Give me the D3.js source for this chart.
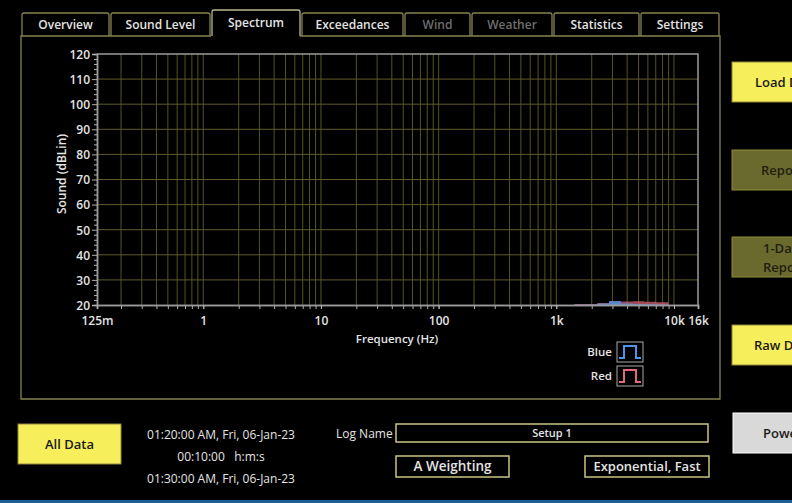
<!DOCTYPE html>
<html>
<head>
<meta charset="utf-8">
<script src="https://cdn.jsdelivr.net/npm/d3@7"></script>
<style>
  html, body { margin: 0; padding: 0; background: #000; overflow: hidden; }
  svg { display: block; font-family: "Open Sans", "Noto Sans", sans-serif; }
</style>
</head>
<body>
<svg id="chart" width="792" height="503"></svg>
<script>
// Tab strip
const tabNames = ['Overview', 'Sound Level', 'Spectrum', 'Exceedances', 'Wind', 'Weather', 'Statistics', 'Settings'];
const tabEdges = [22, 110, 211, 301, 404, 471, 553, 640, 720];
const activeTab = 'Spectrum';
const disabledTabs = ['Wind', 'Weather'];

// Axis ticks
const yMajorTicks = [20, 30, 40, 50, 60, 70, 80, 90, 100, 110, 120];
const xLabelTicks = [0.125, 1, 10, 100, 1000, 10000, 16000];
const xLabelText = ['125m', '1', '10', '100', '1k', '10k', '16k'];

// 1/3 octave band spectrum (Hz, dBLin)
const bandCenters = [1600, 2000, 2500, 3150, 4000, 5000, 6300, 8000];
const redLevels = [20.4, 20.4, 20.8, 20.9, 21.4, 21.5, 21.3, 21.1];
const blueLevels = [20.1, 20.2, 20.6, 21.6, 20.6, 20.4, 20.3, 20.2];

// Legend
const seriesNames = ['Blue', 'Red'];
const seriesColors = ['#4f94e6', '#e0697a'];

// Status / info texts
const startTime = '01:20:00 AM, Fri, 06-Jan-23';
const duration = '00:10:00   h:m:s';
const endTime = '01:30:00 AM, Fri, 06-Jan-23';
const logName = 'Setup 1';
const weighting = 'A Weighting';
const response = 'Exponential, Fast';

const svg = d3.select('#chart');
const txt = '#e4e4e4';
const olive = '#85834f';

// ---- tabs ----
const tabs = svg.append('g');
tabNames.forEach((name, i) => {
  const x0 = tabEdges[i] + (i ? 1 : 0), x1 = tabEdges[i + 1] - 1;
  const active = name === activeTab;
  const top = active ? 10 : 13;
  tabs.append('path')
    .attr('d', `M${x0},36 L${x0},${top + 2} Q${x0},${top} ${x0 + 2},${top} L${x1 - 2},${top} Q${x1},${top} ${x1},${top + 2} L${x1},36`)
    .attr('fill', '#000')
    .attr('stroke', active ? '#b8b68a' : olive)
    .attr('stroke-width', 1.3);
  tabs.append('text')
    .attr('x', (x0 + x1) / 2)
    .attr('y', active ? 27 : 29)
    .attr('text-anchor', 'middle')
    .attr('font-size', 12)
    .attr('font-weight', 600)
    .attr('fill', disabledTabs.includes(name) ? '#6e6e6e' : txt)
    .text(name);
});

// ---- main panel ----
svg.append('path')
  .attr('d', 'M211,36 L21,36 L21,399 L720,399 L720,36 L300,36')
  .attr('fill', 'none')
  .attr('stroke', olive)
  .attr('stroke-width', 1.3);

// ---- scales ----
const x = d3.scaleLog().domain([0.125, 16000]).range([97, 698]);
const y = d3.scaleLinear().domain([20, 120]).range([305, 54]);

const plot = svg.append('g');

// grid
const xGrid = x.ticks().filter((d) => d > 0.125 && d < 16000);
plot.append('g')
  .selectAll('line')
  .data(xGrid)
  .join('line')
  .attr('x1', (d) => x(d)).attr('x2', (d) => x(d))
  .attr('y1', y(120)).attr('y2', y(20))
  .attr('stroke', '#55531f')
  .attr('stroke-width', 1);
plot.append('g')
  .selectAll('line')
  .data(yMajorTicks.slice(1, -1))
  .join('line')
  .attr('x1', x(0.125)).attr('x2', x(16000))
  .attr('y1', (d) => y(d)).attr('y2', (d) => y(d))
  .attr('stroke', '#5e5a2c')
  .attr('stroke-width', 1);

// spectrum areas (stepped bands)
function bandPoints(levels) {
  const pts = [];
  bandCenters.forEach((f, i) => {
    pts.push([f / Math.pow(2, 1 / 6), levels[i]]);
    pts.push([f * Math.pow(2, 1 / 6), levels[i]]);
  });
  return pts;
}
const area = d3.area()
  .x((d) => x(d[0]))
  .y0(y(20))
  .y1((d) => y(d[1]));
[redLevels, blueLevels].forEach((levels, i) => {
  plot.append('path')
    .datum(bandPoints(levels))
    .attr('d', area)
    .attr('fill', i === 0 ? '#c85a6c' : '#5b8fd8')
    .attr('fill-opacity', i === 0 ? 0.8 : 0.9);
});

// frame (top / right)
plot.append('path')
  .attr('d', `M${x(0.125)},${y(120)} L${x(16000)},${y(120)} L${x(16000)},${y(20)}`)
  .attr('fill', 'none')
  .attr('stroke', '#9a9a9a')
  .attr('stroke-width', 1.5);

// y axis
const yMinor = d3.range(20, 121, 2).filter((d) => d % 10 !== 0);
const yAxisMinor = plot.append('g')
  .attr('transform', `translate(${x(0.125)},0)`)
  .call(d3.axisLeft(y).tickValues(yMinor).tickSize(3).tickFormat(''));
const yAxis = plot.append('g')
  .attr('transform', `translate(${x(0.125)},0)`)
  .call(d3.axisLeft(y).tickValues(yMajorTicks).tickSize(5).tickPadding(2));

// x axis
const xAxisMinor = plot.append('g')
  .attr('transform', `translate(0,${y(20)})`)
  .call(d3.axisBottom(x).tickValues(xGrid).tickSize(4).tickFormat(''));
const xAxis = plot.append('g')
  .attr('transform', `translate(0,${y(20)})`)
  .call(d3.axisBottom(x).tickValues(xLabelTicks).tickSize(4).tickPadding(7)
    .tickFormat((d, i) => xLabelText[i]));

[yAxisMinor, yAxis, xAxisMinor, xAxis].forEach((g) => {
  g.select('.domain').attr('stroke', '#9a9a9a').attr('stroke-width', 1.5);
  g.selectAll('.tick line').attr('stroke', '#b0b0b0');
  g.selectAll('.tick text')
    .attr('fill', txt)
    .attr('font-size', 12)
    .attr('font-weight', 600)
    .attr('font-family', '"Open Sans", "Noto Sans", sans-serif');
});
yAxis.selectAll('.tick text').attr('dy', '0.36em');

// axis titles
svg.append('text')
  .attr('transform', 'translate(66,174) rotate(-90)')
  .attr('text-anchor', 'middle')
  .attr('font-size', 12)
  .attr('font-weight', 600)
  .attr('fill', txt)
  .text('Sound (dBLin)');
svg.append('text')
  .attr('x', 397).attr('y', 343)
  .attr('text-anchor', 'middle')
  .attr('font-size', 11.5)
  .attr('font-weight', 600)
  .attr('fill', txt)
  .text('Frequency (Hz)');

// legend
seriesNames.forEach((name, i) => {
  const cy = 352 + i * 24;
  svg.append('text')
    .attr('x', 612).attr('y', cy + 4)
    .attr('text-anchor', 'end')
    .attr('font-size', 11.5)
    .attr('font-weight', 600)
    .attr('fill', txt)
    .text(name);
  svg.append('rect')
    .attr('x', 617).attr('y', cy - 10)
    .attr('width', 26).attr('height', 20)
    .attr('fill', '#000')
    .attr('stroke', '#a8a8a8')
    .attr('stroke-width', 1);
  svg.append('path')
    .attr('d', `M619,${cy + 6} L624,${cy + 6} L624,${cy - 6} L636,${cy - 6} L636,${cy + 6} L641,${cy + 6}`)
    .attr('fill', 'none')
    .attr('stroke', seriesColors[i])
    .attr('stroke-width', 2);
});

// ---- bottom controls ----
function button(x0, y0, w, h, fill, label, opts = {}) {
  const g = svg.append('g');
  g.append('rect')
    .attr('x', x0).attr('y', y0).attr('width', w).attr('height', h)
    .attr('fill', fill)
    .attr('stroke', opts.stroke || '#8f8a3a')
    .attr('stroke-width', 1);
  const lines = Array.isArray(label) ? label : [label];
  lines.forEach((l, i) => {
    g.append('text')
      .attr('x', opts.tx != null ? opts.tx : x0 + w / 2)
      .attr('y', y0 + h / 2 + 5 + (i - (lines.length - 1) / 2) * 19)
      .attr('text-anchor', opts.tx != null ? 'start' : 'middle')
      .attr('font-size', 13)
      .attr('font-weight', 600)
      .attr('fill', opts.color || '#1a1a1a')
      .text(l);
  });
}

button(18, 424, 103, 40, '#f7ee5c', 'All Data');

const info = [startTime, duration, endTime];
[435, 457, 479].forEach((yy, i) => {
  svg.append('text')
    .attr('x', 221).attr('y', yy + 4)
    .attr('text-anchor', 'middle')
    .attr('font-size', 12)
    .attr('fill', txt)
    .attr('xml:space', 'preserve')
    .style('white-space', 'pre')
    .text(info[i]);
});

svg.append('text')
  .attr('x', 336).attr('y', 438)
  .attr('font-size', 12)
  .attr('fill', txt)
  .text('Log Name');

function box(x0, y0, w, h, label, size) {
  svg.append('rect')
    .attr('x', x0).attr('y', y0).attr('width', w).attr('height', h)
    .attr('fill', '#000')
    .attr('stroke', '#c9c585')
    .attr('stroke-width', 1.5);
  svg.append('text')
    .attr('x', x0 + w / 2).attr('y', y0 + h / 2 + size * 0.36)
    .attr('text-anchor', 'middle')
    .attr('font-size', size)
    .attr('font-weight', 600)
    .attr('fill', txt)
    .text(label);
}
box(396, 424, 312, 18, logName, 11);
box(396, 456, 113, 21, weighting, 13.5);
box(585, 456, 124, 21, response, 13);

// ---- right side buttons (cut off by window) ----
button(732, 62, 80, 40, '#f7ee5c', 'Load Data', { tx: 755 });
button(732, 150, 80, 40, '#6b6a2e', 'Report', { tx: 761, color: '#1e1e10' });
button(732, 237, 80, 40, '#6b6a2e', ['1-Day', 'Report'], { tx: 763, color: '#1e1e10' });
button(732, 325, 80, 40, '#f7ee5c', 'Raw Data', { tx: 754 });
button(733, 413, 80, 40, '#d9d9d9', 'Power', { tx: 763, stroke: '#ffffff' });

// bottom edge strip
svg.append('rect')
  .attr('x', 0).attr('y', 500).attr('width', 792).attr('height', 3)
  .attr('fill', '#1d5f92');
</script>
</body>
</html>
